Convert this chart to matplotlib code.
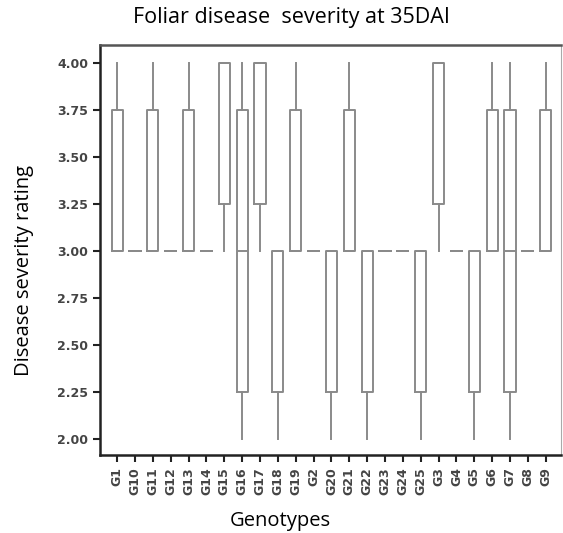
import matplotlib.pyplot as plt

# genotypes in the order shown (alphabetical sort)
genotypes = ["G1", "G10", "G11", "G12", "G13", "G14", "G15", "G16", "G17", "G18",
             "G19", "G2", "G20", "G21", "G22", "G23", "G24", "G25", "G3", "G4",
             "G5", "G6", "G7", "G8", "G9"]

# box statistics
whislo = [3, 3, 3, 3, 3, 3, 3, 2, 3, 2, 3, 3, 2, 3, 2, 3, 3, 2, 3, 3, 2, 3, 2, 3, 3]
q1 = [3, 3, 3, 3, 3, 3, 3.25, 2.25, 3.25, 2.25, 3, 3, 2.25, 3, 2.25, 3, 3, 2.25,
      3.25, 3, 2.25, 3, 2.25, 3, 3]
med = [3, 3, 3, 3, 3, 3, 4, 3, 4, 3, 3, 3, 3, 3, 3, 3, 3, 3, 4, 3, 3, 3, 3, 3, 3]
q3 = [3.75, 3, 3.75, 3, 3.75, 3, 4, 3.75, 4, 3, 3.75, 3, 3, 3.75, 3, 3, 3, 3,
      4, 3, 3, 3.75, 3.75, 3, 3.75]
whishi = [4, 3, 4, 3, 4, 3, 4, 4, 4, 3, 4, 3, 3, 4, 3, 3, 3, 3, 4, 3, 3, 4, 4, 3, 4]

stats = []
for i in range(len(genotypes)):
    stats.append({"label": genotypes[i], "whislo": whislo[i], "q1": q1[i],
                  "med": med[i], "q3": q3[i], "whishi": whishi[i], "fliers": []})

fig = plt.figure(figsize=(5.63, 5.33), dpi=100)
ax = fig.add_axes([0.178, 0.146, 0.818, 0.770])

grey = "#8a8a8a"
ax.bxp(stats, widths=0.62, showcaps=False, showfliers=False,
       boxprops=dict(color=grey, linewidth=1.4),
       whiskerprops=dict(color=grey, linewidth=1.4),
       medianprops=dict(color=grey, linewidth=1.4))

ax.set_xlim(0.05, 25.84)
ax.set_ylim(1.915, 4.096)
ax.set_yticks([2.0, 2.25, 2.5, 2.75, 3.0, 3.25, 3.5, 3.75, 4.0])
ax.set_yticklabels(["%.2f" % v for v in ax.get_yticks()])
ax.set_xticks(range(1, len(genotypes) + 1))
ax.set_xticklabels(genotypes, rotation=90)

ax.tick_params(axis="both", colors="#222222", labelcolor="#444444", width=1.5,
               length=5, labelsize=9)
for lbl in ax.get_xticklabels() + ax.get_yticklabels():
    lbl.set_fontfamily("DejaVu Sans")
    lbl.set_fontweight("bold")

for s in ["left", "bottom", "top"]:
    ax.spines[s].set_linewidth(1.8)
    ax.spines[s].set_color("#222222")
ax.spines["top"].set_color("#555555")
ax.spines["right"].set_linewidth(0.8)
ax.spines["right"].set_color("#aaaaaa")

ax.set_xlabel("Genotypes", fontsize=14.5, family="Open Sans")
ax.set_ylabel("Disease severity rating", fontsize=14.5, family="Open Sans")
ax.xaxis.set_label_coords(0.39, -0.137)
ax.yaxis.set_label_coords(-0.143, 0.451)
fig.text(0.517, 0.968, "Foliar disease  severity at 35DAI", fontsize=15.5,
         family="Open Sans", ha="center", va="center")

fig.savefig("out.png", dpi=100)
